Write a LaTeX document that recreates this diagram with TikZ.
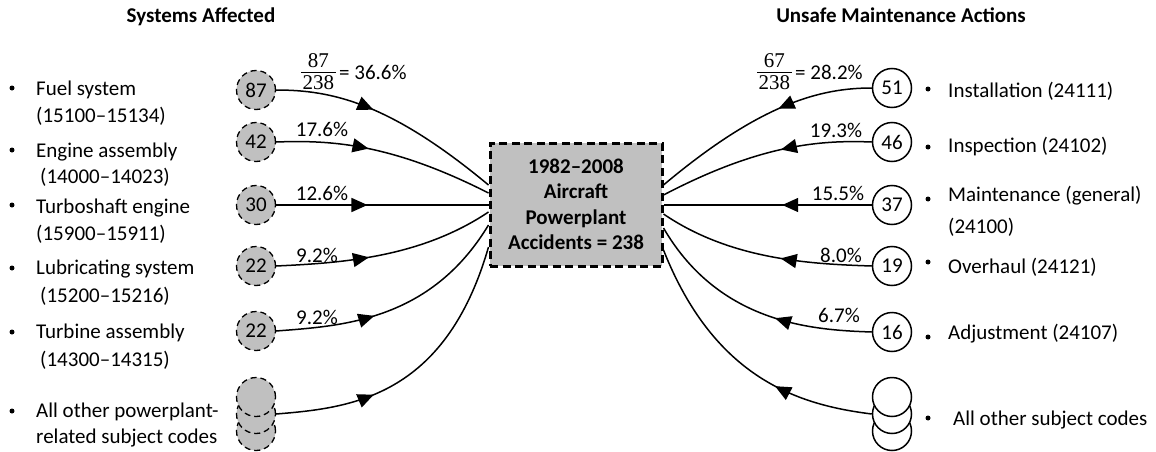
\documentclass[tikz,border=0pt]{standalone}
\usepackage{fontspec}
\setmainfont{Carlito}
\newfontfamily\fracfont{Liberation Serif}
\usetikzlibrary{arrows.meta,decorations.markings}
\definecolor{boxgray}{RGB}{192,192,192}

% stacked fraction: numerator, rule, denominator (bottom row on the baseline)
\newcommand{\barfrac}[2]{\raisebox{-9.5pt}{\fracfont\setlength{\arrayrulewidth}{1pt}%
  \renewcommand{\arraystretch}{0.6}%
  \begin{tabular}[b]{@{\hspace{1.5pt}}c@{\hspace{1.5pt}}}#1\\\hline\rule{0pt}{16pt}#2\end{tabular}}}

\begin{document}
\begin{tikzpicture}[x=1pt,y=-1pt,
  every node/.style={font=\fontsize{21}{26}\selectfont, inner sep=0pt},
  title/.style={font=\bfseries\fontsize{21}{26}\selectfont, anchor=base},
  item/.style={anchor=base west},
  pct/.style={anchor=base},
  bulletdot/.style={circle, fill=black, minimum size=5pt, inner sep=0pt},
  sysnode/.style={circle, draw, fill=boxgray, line width=1.3pt,
    dash pattern=on 6pt off 4pt, minimum size=39pt, inner sep=0pt},
  actnode/.style={circle, draw, fill=white, line width=1.5pt,
    minimum size=39pt, inner sep=0pt},
  hub/.style={draw, fill=boxgray, line width=3pt, dash pattern=on 8pt off 4.5pt,
    minimum width=172pt, minimum height=123pt, align=center,
    font=\bfseries\fontsize{21}{25.5}\selectfont},
  link/.style={line width=1.5pt},
  flowmark/.style={postaction={decorate}, decoration={markings,
    mark=at position #1 with {\arrow{Triangle[length=16pt,width=14pt]}}}}
]
\path[fill=white] (0,0) rectangle (1156,452);
\useasboundingbox (0,0) rectangle (1156,452);

% column headings
\node[title] (tl) at (201,23) {Systems Affected};
\node[title] (tr) at (901,23) {Unsafe Maintenance Actions};

% central box
\node[hub] (acc) at (576,204.5) {1982--2008\\Aircraft\\Powerplant\\Accidents = 238};

% points where the connectors meet the box
\coordinate (aL1) at (acc.west |- 0,185);
\coordinate (aL2) at (acc.west |- 0,193);
\coordinate (aL3) at (acc.west |- 0,205);
\coordinate (aL4) at (acc.west |- 0,212);
\coordinate (aL5) at (acc.west |- 0,225);
\coordinate (aL6) at (acc.west |- 0,247);
\coordinate (aR1) at (acc.east |- 0,185);
\coordinate (aR2) at (acc.east |- 0,195);
\coordinate (aR3) at (acc.east |- 0,205);
\coordinate (aR4) at (acc.east |- 0,214);
\coordinate (aR5) at (acc.east |- 0,228);
\coordinate (aR6) at (acc.east |- 0,250);

% systems affected (left)
\node[sysnode] (c87) at (256,90) {87};
\node[sysnode] (c42) at (256,142) {42};
\node[sysnode] (c30) at (256,205) {30};
\node[sysnode] (c22a) at (256,266) {22};
\node[sysnode] (c22b) at (256,331) {22};
\node[sysnode] (cs3) at (256,431) {};
\node[sysnode] (cs2) at (256,414) {};
\node[sysnode] (cs1) at (256,397) {};

% maintenance actions (right)
\node[actnode] (r51) at (892,88) {51};
\node[actnode] (r46) at (892,142) {46};
\node[actnode] (r37) at (892,205) {37};
\node[actnode] (r19) at (892,266) {19};
\node[actnode] (r16) at (892,332) {16};
\node[actnode] (rs3) at (892,431) {};
\node[actnode] (rs2) at (892,414) {};
\node[actnode] (rs1) at (892,397) {};

% left connectors
\draw[link,flowmark=0.42] (c87.east) .. controls (332,90) and (390,103) .. (aL1);
\draw[link,flowmark=0.42] (c42.east) .. controls (330,140) and (390,143) .. (aL2);
\draw[link,flowmark=0.43] (c30.east) -- (aL3);
\draw[link,flowmark=0.42] (c22a.east) .. controls (340,263) and (420,258) .. (aL4);
\draw[link,flowmark=0.40] (c22b.east) .. controls (340,326) and (430,322) .. (aL5);
\draw[link,flowmark=0.34] (cs2.east) .. controls (350,408) and (445,398) .. (aL6);

% right connectors
\draw[link,flowmark=0.41] (r51.west) .. controls (821,88) and (761,103) .. (aR1);
\draw[link,flowmark=0.42] (r46.west) .. controls (821,140) and (761,144) .. (aR2);
\draw[link,flowmark=0.43] (r37.west) -- (aR3);
\draw[link,flowmark=0.42] (r19.west) .. controls (811,264) and (731,260) .. (aR4);
\draw[link,flowmark=0.40] (r16.west) .. controls (815,330) and (720,325) .. (aR5);
\draw[link,flowmark=0.36] (rs2.west) .. controls (800,405) and (715,380) .. (aR6);

% share labels
\node[item] (fl) at (301,80) {\barfrac{87}{238}\,= 36.6\%};
\node[pct] (p42) at (322,136) {17.6\%};
\node[pct] (p30) at (322,200) {12.6\%};
\node[pct] (p22a) at (317,262) {9.2\%};
\node[pct] (p22b) at (317,324) {9.2\%};
\node[item] (fr) at (757,80) {\barfrac{67}{238}\,= 28.2\%};
\node[pct] (p46) at (836,137) {19.3\%};
\node[pct] (p37) at (838,200) {15.5\%};
\node[pct] (p19) at (841,262) {8.0\%};
\node[pct] (p16) at (839,322) {6.7\%};

% left list
\node[bulletdot] (lb1) at (12,88) {};
\node[bulletdot] (lb2) at (12,150) {};
\node[bulletdot] (lb3) at (12,205) {};
\node[bulletdot] (lb4) at (12,268) {};
\node[bulletdot] (lb5) at (12,332) {};
\node[bulletdot] (lb6) at (12,411) {};
\node[item] (t1a) at (36,95) {Fuel system};
\node[item] (t1b) at (36,122) {(15100--15134)};
\node[item] (t2a) at (36,157) {Engine assembly};
\node[item] (t2b) at (40,183) {(14000--14023)};
\node[item] (t3a) at (36,213) {Turboshaft engine};
\node[item] (t3b) at (36,240) {(15900--15911)};
\node[item] (t4a) at (36,274) {Lubricating system};
\node[item] (t4b) at (40,302) {(15200--15216)};
\node[item] (t5a) at (36,338) {Turbine assembly};
\node[item] (t5b) at (40,366) {(14300--14315)};
\node[item] (t6a) at (36,417) {All other powerplant-};
\node[item] (t6b) at (36,443) {related subject codes};

% right list
\node[bulletdot] (rb1) at (928,89) {};
\node[bulletdot] (rb2) at (928,147) {};
\node[bulletdot] (rb3) at (928,199) {};
\node[bulletdot] (rb4) at (928,262) {};
\node[bulletdot] (rb5) at (928,337) {};
\node[bulletdot] (rb6) at (928,418) {};
\node[item] (u1) at (948,97) {Installation (24111)};
\node[item] (u2) at (948,152) {Inspection (24102)};
\node[item] (u3a) at (948,201) {Maintenance (general)};
\node[item] (u3b) at (948,233) {(24100)};
\node[item] (u4) at (948,273) {Overhaul (24121)};
\node[item] (u5) at (948,339) {Adjustment (24107)};
\node[item] (u6) at (953,425) {All other subject codes};
\end{tikzpicture}
\end{document}
